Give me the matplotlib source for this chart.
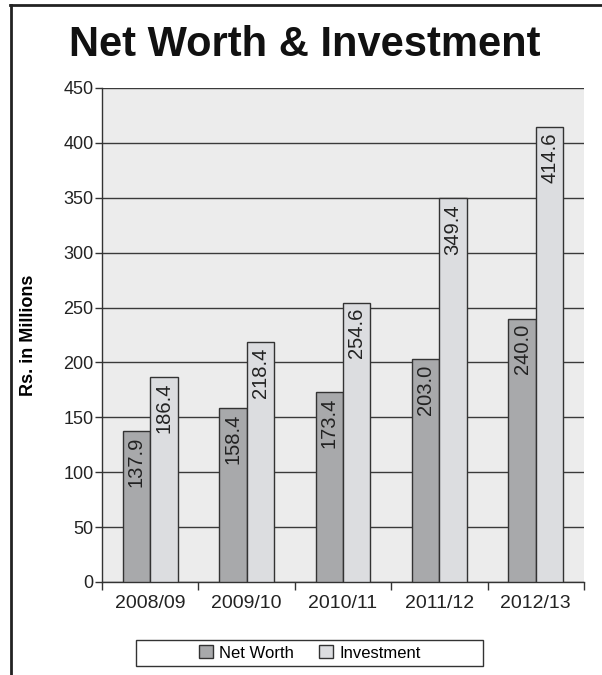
import numpy as np
import matplotlib
matplotlib.use("Agg")
import matplotlib.pyplot as plt
from matplotlib.patches import Patch, Rectangle
from matplotlib.lines import Line2D

# data
years = ["2008/09", "2009/10", "2010/11", "2011/12", "2012/13"]
net_worth = [137.9, 158.4, 173.4, 203.0, 240.0]
investment = [186.4, 218.4, 254.6, 349.4, 414.6]
y_ticks = [0, 50, 100, 150, 200, 250, 300, 350, 400, 450]

plt.rcParams["font.family"] = ["Liberation Sans", "DejaVu Sans"]

nw_col = "#a8a9ab"
inv_col = "#dcdde0"
edge = "#333333"

fig = plt.figure(figsize=(6.02, 6.75), dpi=100)
ax = fig.add_axes([102 / 602, 1 - 582 / 675, 482 / 602, 494 / 675])
ax.set_facecolor("#ececec")

x = np.arange(len(years))
w = 0.285
b1 = ax.bar(x - w / 2, net_worth, w, color=nw_col, edgecolor=edge, linewidth=1, zorder=3)
b2 = ax.bar(x + w / 2, investment, w, color=inv_col, edgecolor=edge, linewidth=1, zorder=3)

# values written inside the bars, rotated
for bars, vals in ((b1, net_worth), (b2, investment)):
    for r, v in zip(bars, vals):
        ax.annotate(f"{v:.1f}", (r.get_x() + r.get_width() / 2, v), xytext=(0, -4),
                    textcoords="offset points", rotation=90, ha="center", va="top",
                    fontsize=14.5, color="#222222", zorder=4)

ax.set_xlim(-0.5, len(years) - 0.5)
ax.set_ylim(0, 450)
ax.set_yticks(y_ticks)
ax.tick_params(axis="y", direction="out", length=5, width=1, color="#333333",
               labelsize=13, labelcolor="#222222", pad=1)
ax.yaxis.grid(True, color="#3a3a3a", linewidth=1.0, zorder=1)
ax.set_axisbelow(True)

# ticks between the groups, labels in the middle
ax.set_xticks(np.arange(len(years) + 1) - 0.5)
ax.set_xticklabels([])
ax.set_xticks(x, minor=True)
ax.set_xticklabels(years, minor=True, fontsize=14, color="#222222")
ax.tick_params(axis="x", which="major", direction="out", length=6, width=1, color="#333333")
ax.tick_params(axis="x", which="minor", length=0, pad=9)

for s in ("top", "right"):
    ax.spines[s].set_visible(False)
for s in ("left", "bottom"):
    ax.spines[s].set_color("#333333")
    ax.spines[s].set_linewidth(1)

ax.set_ylabel("Rs. in Millions", fontsize=13, fontweight="bold")
ax.yaxis.set_label_coords(-0.135, 0.5)

fig.text(305 / 602, 1 - 45 / 675, "Net Worth & Investment", ha="center", va="center",
         fontweight="bold", fontsize=30, color="#111111")

# legend in a wide box
fig.patches.append(Rectangle((136 / 602, 1 - 666 / 675), 347 / 602, 26 / 675,
                             transform=fig.transFigure, facecolor="white",
                             edgecolor="#333333", linewidth=1))
handles = [Patch(facecolor=nw_col, edgecolor=edge, linewidth=1, label="Net Worth"),
           Patch(facecolor=inv_col, edgecolor=edge, linewidth=1, label="Investment")]
fig.legend(handles=handles, loc="center", bbox_to_anchor=(310 / 602, 1 - 653 / 675),
           ncol=2, frameon=False, fontsize=12, handlelength=0.8, handleheight=0.8,
           handletextpad=0.4, columnspacing=1.5, borderpad=0)

# outer frame: top and left only
fig.lines.append(Line2D([10 / 602, 1], [1 - 5 / 675, 1 - 5 / 675], transform=fig.transFigure,
                        color="#222222", linewidth=2))
fig.lines.append(Line2D([11 / 602, 11 / 602], [0, 1 - 5 / 675], transform=fig.transFigure,
                        color="#222222", linewidth=2))

fig.savefig("out.png", dpi=100)
